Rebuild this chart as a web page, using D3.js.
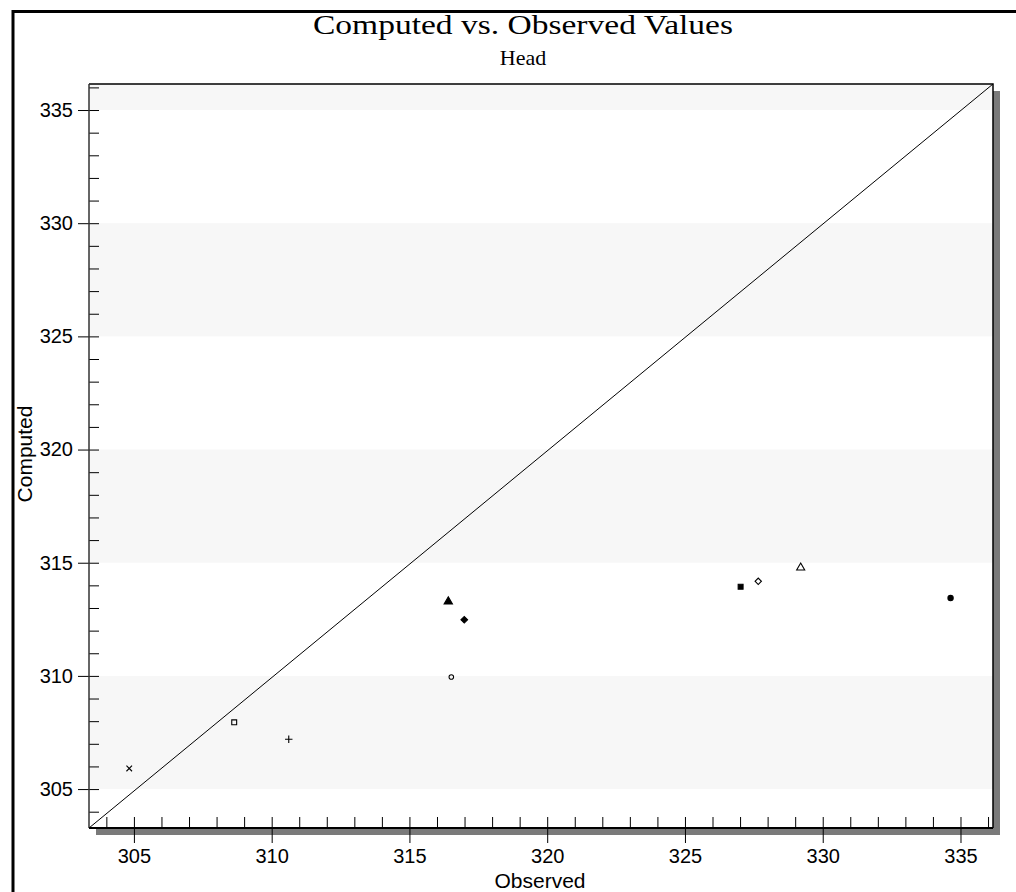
<!DOCTYPE html>
<html>
<head>
<meta charset="utf-8">
<script src="https://cdn.jsdelivr.net/npm/d3@7"></script>
<style>
  body { margin: 0; background: #fff; }
  .tick text { font-family: "Liberation Sans", Arial, sans-serif; font-size: 20px; fill: #000; }
</style>
</head>
<body>
<div id="chart"></div>
<script>
// values
var observed = [304.83, 308.64, 310.62, 316.41, 316.99, 316.52, 327.02, 327.66, 329.2, 334.64];
var computed = [305.91, 307.95, 307.2, 313.28, 312.48, 309.95, 313.94, 314.18, 314.78, 313.44];
var markers = ['times', 'squareOpen', 'plus', 'triangle', 'diamond', 'circleOpen', 'square', 'diamondOpen', 'triangleOpen', 'circle'];
var majorTicks = [305, 310, 315, 320, 325, 330, 335];
var bands = [[305, 310], [315, 320], [325, 330], [335, 340]];

var width = 1016, height = 892;
var plotL = 89, plotT = 84, plotR = 993, plotB = 828;

var svg = d3.select('#chart').append('svg')
    .attr('width', width)
    .attr('height', height);

// outer frame
svg.append('path')
    .attr('d', `M13,${height} V11.5 H${width}`)
    .attr('fill', 'none')
    .attr('stroke', '#000')
    .attr('stroke-width', 3);

var x = d3.scaleLinear().domain([303.37, 336.18]).range([plotL, plotR]);
var y = d3.scaleLinear().domain([303.28, 336.15]).range([plotB, plotT]);

// shadow + plot area
svg.append('rect')
    .attr('x', plotL + 7).attr('y', plotT + 7)
    .attr('width', plotR - plotL).attr('height', plotB - plotT)
    .attr('fill', '#7a7a7a');
svg.append('rect')
    .attr('x', plotL).attr('y', plotT)
    .attr('width', plotR - plotL).attr('height', plotB - plotT)
    .attr('fill', '#fff');

svg.append('clipPath').attr('id', 'plotclip')
    .append('rect')
    .attr('x', plotL).attr('y', plotT)
    .attr('width', plotR - plotL).attr('height', plotB - plotT);

svg.append('g').attr('clip-path', 'url(#plotclip)')
    .selectAll('rect').data(bands).enter().append('rect')
    .attr('x', plotL)
    .attr('width', plotR - plotL)
    .attr('y', d => y(d[1]))
    .attr('height', d => y(d[0]) - y(d[1]))
    .attr('fill', '#f7f7f7');

// 1:1 line, corner to corner
svg.append('line')
    .attr('x1', x(x.domain()[0])).attr('y1', y(y.domain()[0]))
    .attr('x2', x(x.domain()[1])).attr('y2', y(y.domain()[1]))
    .attr('stroke', '#000')
    .attr('stroke-width', 1);

// frame top & right
svg.append('path')
    .attr('d', `M${plotL},${plotT} H${plotR} V${plotB}`)
    .attr('fill', 'none')
    .attr('stroke', '#000')
    .attr('stroke-width', 1.5);

var minorTicks = d3.range(304, 337);

// y axis
var yMinor = svg.append('g').attr('transform', `translate(${plotL},0)`)
    .call(d3.axisRight(y).tickValues(minorTicks).tickSize(10).tickFormat(''));
var yMajor = svg.append('g').attr('transform', `translate(${plotL},0)`)
    .call(d3.axisLeft(y).tickValues(majorTicks).tickSize(11).tickPadding(5).tickFormat(d3.format('d')));

// x axis
var xMinor = svg.append('g').attr('transform', `translate(0,${plotB})`)
    .call(d3.axisTop(x).tickValues(minorTicks).tickSize(11).tickFormat(''));
var xMajor = svg.append('g').attr('transform', `translate(0,${plotB})`)
    .call(d3.axisBottom(x).tickValues(majorTicks).tickSize(15).tickPadding(6).tickFormat(d3.format('d')));

[yMinor, yMajor, xMinor, xMajor].forEach(g => {
    g.select('.domain').remove();
    g.selectAll('.tick line').attr('stroke', '#000').attr('stroke-width', 1);
});

svg.append('line')
    .attr('x1', plotL).attr('x2', plotL).attr('y1', plotT).attr('y2', plotB)
    .attr('stroke', '#333').attr('stroke-width', 1.5);
svg.append('line')
    .attr('x1', plotL).attr('x2', plotR).attr('y1', plotB).attr('y2', plotB)
    .attr('stroke', '#000').attr('stroke-width', 2);

// markers
var symbolFor = {
    times: [d3.symbolTimes, false, 22, 0],
    squareOpen: [d3.symbolSquare, false, 24, 0],
    plus: [d3.symbolPlus, false, 20, 0],
    triangle: [d3.symbolTriangle, true, 30, 0],
    diamond: [d3.symbolSquare, true, 22, 45],
    circleOpen: [d3.symbolCircle, false, 16, 0],
    square: [d3.symbolSquare, true, 24, 0],
    diamondOpen: [d3.symbolSquare, false, 20, 45],
    triangleOpen: [d3.symbolTriangle, false, 28, 0],
    circle: [d3.symbolCircle, true, 22, 0]
};

svg.append('g').selectAll('path')
    .data(observed.map((o, i) => ({ o: o, c: computed[i], m: markers[i] })))
    .enter().append('path')
    .attr('transform', d => `translate(${x(d.o)},${y(d.c)})rotate(${symbolFor[d.m][3]})`)
    .attr('d', d => d3.symbol().type(symbolFor[d.m][0]).size(symbolFor[d.m][2])())
    .attr('fill', d => symbolFor[d.m][1] ? '#000' : 'none')
    .attr('stroke', '#000')
    .attr('stroke-width', 1.1);

// titles
svg.append('text')
    .attr('x', 523).attr('y', 34)
    .attr('text-anchor', 'middle')
    .attr('textLength', 420)
    .attr('lengthAdjust', 'spacingAndGlyphs')
    .style('font-family', '"Liberation Serif", "Times New Roman", serif')
    .style('font-size', '28px')
    .text('Computed vs. Observed Values');

svg.append('text')
    .attr('x', 523).attr('y', 65)
    .attr('text-anchor', 'middle')
    .style('font-family', '"Liberation Serif", "Times New Roman", serif')
    .style('font-size', '22px')
    .text('Head');

svg.append('text')
    .attr('x', 540).attr('y', 888)
    .attr('text-anchor', 'middle')
    .style('font-family', '"Liberation Sans", Arial, sans-serif')
    .style('font-size', '21px')
    .text('Observed');

svg.append('text')
    .attr('transform', `translate(32,454)rotate(-90)`)
    .attr('text-anchor', 'middle')
    .style('font-family', '"Liberation Sans", Arial, sans-serif')
    .style('font-size', '21px')
    .text('Computed');
</script>
</body>
</html>
